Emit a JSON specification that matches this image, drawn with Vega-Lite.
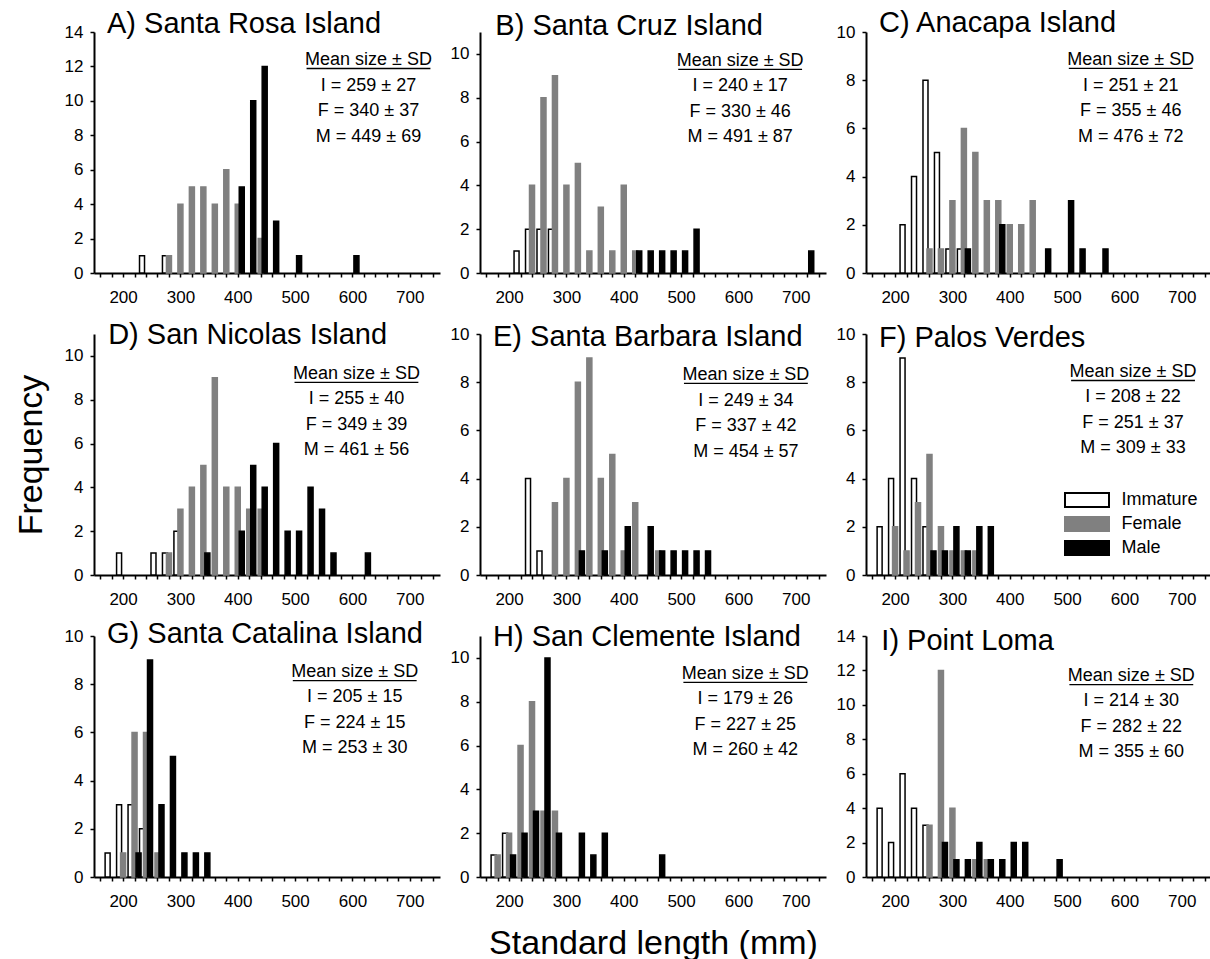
{
"$schema": "https://vega.github.io/schema/vega-lite/v6.json",
"background": "white",
"padding": {"left": 14, "top": 8, "right": 0, "bottom": 0},
"config": {
 "view": {"stroke": null},
 "font": "Liberation Sans",
 "axis": {"grid": false, "domainColor": "#000", "domainWidth": 2, "tickColor": "#000", "tickWidth": 1.5, "tickSize": 4, "labelColor": "#000", "labelFont": "Liberation Sans", "labelFontSize": 17, "labelOverlap": false, "titleFont": "Liberation Sans", "titleFontSize": 34, "titleFontWeight": "normal", "titleColor": "#000"}
},
"datasets": {
"bars": [
{"panel":"A","sex":"Immature","length":240,"count":1},{"panel":"A","sex":"Immature","length":280,"count":1},
{"panel":"A","sex":"Female","length":280,"count":1},{"panel":"A","sex":"Female","length":300,"count":4},{"panel":"A","sex":"Female","length":320,"count":5},{"panel":"A","sex":"Female","length":340,"count":5},{"panel":"A","sex":"Female","length":360,"count":4},{"panel":"A","sex":"Female","length":380,"count":6},{"panel":"A","sex":"Female","length":400,"count":4},{"panel":"A","sex":"Female","length":440,"count":2},
{"panel":"A","sex":"Male","length":400,"count":5},{"panel":"A","sex":"Male","length":420,"count":10},{"panel":"A","sex":"Male","length":440,"count":12},{"panel":"A","sex":"Male","length":460,"count":3},{"panel":"A","sex":"Male","length":500,"count":1},{"panel":"A","sex":"Male","length":600,"count":1},
{"panel":"B","sex":"Immature","length":220,"count":1},{"panel":"B","sex":"Immature","length":240,"count":2},{"panel":"B","sex":"Immature","length":260,"count":2},{"panel":"B","sex":"Immature","length":280,"count":2},
{"panel":"B","sex":"Female","length":240,"count":4},{"panel":"B","sex":"Female","length":260,"count":8},{"panel":"B","sex":"Female","length":280,"count":9},{"panel":"B","sex":"Female","length":300,"count":4},{"panel":"B","sex":"Female","length":320,"count":5},{"panel":"B","sex":"Female","length":340,"count":1},{"panel":"B","sex":"Female","length":360,"count":3},{"panel":"B","sex":"Female","length":380,"count":1},{"panel":"B","sex":"Female","length":400,"count":4},{"panel":"B","sex":"Female","length":420,"count":1},
{"panel":"B","sex":"Male","length":420,"count":1},{"panel":"B","sex":"Male","length":440,"count":1},{"panel":"B","sex":"Male","length":460,"count":1},{"panel":"B","sex":"Male","length":480,"count":1},{"panel":"B","sex":"Male","length":500,"count":1},{"panel":"B","sex":"Male","length":520,"count":2},{"panel":"B","sex":"Male","length":720,"count":1},
{"panel":"C","sex":"Immature","length":220,"count":2},{"panel":"C","sex":"Immature","length":240,"count":4},{"panel":"C","sex":"Immature","length":260,"count":8},{"panel":"C","sex":"Immature","length":280,"count":5},{"panel":"C","sex":"Immature","length":300,"count":1},{"panel":"C","sex":"Immature","length":320,"count":1},
{"panel":"C","sex":"Female","length":260,"count":1},{"panel":"C","sex":"Female","length":280,"count":1},{"panel":"C","sex":"Female","length":300,"count":3},{"panel":"C","sex":"Female","length":320,"count":6},{"panel":"C","sex":"Female","length":340,"count":5},{"panel":"C","sex":"Female","length":360,"count":3},{"panel":"C","sex":"Female","length":380,"count":3},{"panel":"C","sex":"Female","length":400,"count":2},{"panel":"C","sex":"Female","length":420,"count":2},{"panel":"C","sex":"Female","length":440,"count":3},
{"panel":"C","sex":"Male","length":320,"count":1},{"panel":"C","sex":"Male","length":380,"count":2},{"panel":"C","sex":"Male","length":460,"count":1},{"panel":"C","sex":"Male","length":500,"count":3},{"panel":"C","sex":"Male","length":520,"count":1},{"panel":"C","sex":"Male","length":560,"count":1},
{"panel":"D","sex":"Immature","length":200,"count":1},{"panel":"D","sex":"Immature","length":260,"count":1},{"panel":"D","sex":"Immature","length":280,"count":1},{"panel":"D","sex":"Immature","length":300,"count":2},
{"panel":"D","sex":"Female","length":280,"count":1},{"panel":"D","sex":"Female","length":300,"count":3},{"panel":"D","sex":"Female","length":320,"count":4},{"panel":"D","sex":"Female","length":340,"count":5},{"panel":"D","sex":"Female","length":360,"count":9},{"panel":"D","sex":"Female","length":380,"count":4},{"panel":"D","sex":"Female","length":400,"count":4},{"panel":"D","sex":"Female","length":420,"count":3},{"panel":"D","sex":"Female","length":440,"count":3},
{"panel":"D","sex":"Male","length":340,"count":1},{"panel":"D","sex":"Male","length":400,"count":2},{"panel":"D","sex":"Male","length":420,"count":5},{"panel":"D","sex":"Male","length":440,"count":4},{"panel":"D","sex":"Male","length":460,"count":6},{"panel":"D","sex":"Male","length":480,"count":2},{"panel":"D","sex":"Male","length":500,"count":2},{"panel":"D","sex":"Male","length":520,"count":4},{"panel":"D","sex":"Male","length":540,"count":3},{"panel":"D","sex":"Male","length":560,"count":1},{"panel":"D","sex":"Male","length":620,"count":1},
{"panel":"E","sex":"Immature","length":240,"count":4},{"panel":"E","sex":"Immature","length":260,"count":1},
{"panel":"E","sex":"Female","length":280,"count":3},{"panel":"E","sex":"Female","length":300,"count":4},{"panel":"E","sex":"Female","length":320,"count":8},{"panel":"E","sex":"Female","length":340,"count":9},{"panel":"E","sex":"Female","length":360,"count":4},{"panel":"E","sex":"Female","length":380,"count":5},{"panel":"E","sex":"Female","length":400,"count":1},{"panel":"E","sex":"Female","length":420,"count":3},{"panel":"E","sex":"Female","length":460,"count":1},
{"panel":"E","sex":"Male","length":320,"count":1},{"panel":"E","sex":"Male","length":360,"count":1},{"panel":"E","sex":"Male","length":400,"count":2},{"panel":"E","sex":"Male","length":440,"count":2},{"panel":"E","sex":"Male","length":460,"count":1},{"panel":"E","sex":"Male","length":480,"count":1},{"panel":"E","sex":"Male","length":500,"count":1},{"panel":"E","sex":"Male","length":520,"count":1},{"panel":"E","sex":"Male","length":540,"count":1},
{"panel":"F","sex":"Immature","length":180,"count":2},{"panel":"F","sex":"Immature","length":200,"count":4},{"panel":"F","sex":"Immature","length":220,"count":9},{"panel":"F","sex":"Immature","length":240,"count":4},{"panel":"F","sex":"Immature","length":260,"count":2},
{"panel":"F","sex":"Female","length":200,"count":2},{"panel":"F","sex":"Female","length":220,"count":1},{"panel":"F","sex":"Female","length":240,"count":3},{"panel":"F","sex":"Female","length":260,"count":5},{"panel":"F","sex":"Female","length":280,"count":2},{"panel":"F","sex":"Female","length":300,"count":1},{"panel":"F","sex":"Female","length":320,"count":1},{"panel":"F","sex":"Female","length":340,"count":1},
{"panel":"F","sex":"Male","length":260,"count":1},{"panel":"F","sex":"Male","length":280,"count":1},{"panel":"F","sex":"Male","length":300,"count":2},{"panel":"F","sex":"Male","length":320,"count":1},{"panel":"F","sex":"Male","length":340,"count":2},{"panel":"F","sex":"Male","length":360,"count":2},
{"panel":"G","sex":"Immature","length":180,"count":1},{"panel":"G","sex":"Immature","length":200,"count":3},{"panel":"G","sex":"Immature","length":220,"count":3},{"panel":"G","sex":"Immature","length":240,"count":2},
{"panel":"G","sex":"Female","length":200,"count":1},{"panel":"G","sex":"Female","length":220,"count":6},{"panel":"G","sex":"Female","length":240,"count":6},{"panel":"G","sex":"Female","length":260,"count":1},
{"panel":"G","sex":"Male","length":220,"count":1},{"panel":"G","sex":"Male","length":240,"count":9},{"panel":"G","sex":"Male","length":260,"count":3},{"panel":"G","sex":"Male","length":280,"count":5},{"panel":"G","sex":"Male","length":300,"count":1},{"panel":"G","sex":"Male","length":320,"count":1},{"panel":"G","sex":"Male","length":340,"count":1},
{"panel":"H","sex":"Immature","length":180,"count":1},{"panel":"H","sex":"Immature","length":200,"count":2},
{"panel":"H","sex":"Female","length":180,"count":1},{"panel":"H","sex":"Female","length":200,"count":2},{"panel":"H","sex":"Female","length":220,"count":6},{"panel":"H","sex":"Female","length":240,"count":8},{"panel":"H","sex":"Female","length":260,"count":3},{"panel":"H","sex":"Female","length":280,"count":3},
{"panel":"H","sex":"Male","length":200,"count":1},{"panel":"H","sex":"Male","length":220,"count":2},{"panel":"H","sex":"Male","length":240,"count":3},{"panel":"H","sex":"Male","length":260,"count":10},{"panel":"H","sex":"Male","length":280,"count":2},{"panel":"H","sex":"Male","length":320,"count":2},{"panel":"H","sex":"Male","length":340,"count":1},{"panel":"H","sex":"Male","length":360,"count":2},{"panel":"H","sex":"Male","length":460,"count":1},
{"panel":"I","sex":"Immature","length":180,"count":4},{"panel":"I","sex":"Immature","length":200,"count":2},{"panel":"I","sex":"Immature","length":220,"count":6},{"panel":"I","sex":"Immature","length":240,"count":4},{"panel":"I","sex":"Immature","length":260,"count":3},
{"panel":"I","sex":"Female","length":260,"count":3},{"panel":"I","sex":"Female","length":280,"count":12},{"panel":"I","sex":"Female","length":300,"count":4},{"panel":"I","sex":"Female","length":340,"count":1},{"panel":"I","sex":"Female","length":360,"count":1},
{"panel":"I","sex":"Male","length":280,"count":2},{"panel":"I","sex":"Male","length":300,"count":1},{"panel":"I","sex":"Male","length":320,"count":1},{"panel":"I","sex":"Male","length":340,"count":2},{"panel":"I","sex":"Male","length":360,"count":1},{"panel":"I","sex":"Male","length":380,"count":1},{"panel":"I","sex":"Male","length":400,"count":2},{"panel":"I","sex":"Male","length":420,"count":2},{"panel":"I","sex":"Male","length":480,"count":1}
],
"stats": [
{"panel":"A","title":"A) Santa Rosa Island","lines":["Mean size ± SD","I = 259 ± 27","F = 340 ± 37","M = 449 ± 69"]},
{"panel":"B","title":"B) Santa Cruz Island","lines":["Mean size ± SD","I = 240 ± 17","F = 330 ± 46","M = 491 ± 87"]},
{"panel":"C","title":"C) Anacapa Island","lines":["Mean size ± SD","I = 251 ± 21","F = 355 ± 46","M = 476 ± 72"]},
{"panel":"D","title":"D) San Nicolas Island","lines":["Mean size ± SD","I = 255 ± 40","F = 349 ± 39","M = 461 ± 56"]},
{"panel":"E","title":"E) Santa Barbara Island","lines":["Mean size ± SD","I = 249 ± 34","F = 337 ± 42","M = 454 ± 57"]},
{"panel":"F","title":"F) Palos Verdes","lines":["Mean size ± SD","I = 208 ± 22","F = 251 ± 37","M = 309 ± 33"]},
{"panel":"G","title":"G) Santa Catalina Island","lines":["Mean size ± SD","I = 205 ± 15","F = 224 ± 15","M = 253 ± 30"]},
{"panel":"H","title":"H) San Clemente Island","lines":["Mean size ± SD","I = 179 ± 26","F = 227 ± 25","M = 260 ± 42"]},
{"panel":"I","title":"I) Point Loma","lines":["Mean size ± SD","I = 214 ± 30","F = 282 ± 22","M = 355 ± 60"]}
]
},
"columns": 3,
"spacing": {"row": 61, "column": 40},
"bounds": "flush",
"resolve": {"scale": {"x": "independent", "y": "independent", "fill": "independent", "stroke": "independent"}, "axis": {"x": "independent", "y": "independent"}, "legend": {"fill": "independent", "stroke": "independent"}},
"concat": [
{"width": 346, "height": 241, "resolve": {"axis": {"x": "independent", "y": "independent"}}, "layer": [
 {"data": {"name": "bars"}, "transform": [{"filter": "datum.panel === 'A' && datum.sex === 'Immature'"}], "mark": {"type": "bar", "orient": "vertical", "width": 5, "xOffset": -4, "strokeWidth": 1.5},
  "encoding": {"x": {"field": "length", "type": "quantitative", "scale": {"domain": [158, 744], "nice": false, "zero": false}, "axis": {"values": [160,180,200,220,240,260,280,300,320,340,360,380,400,420,440,460,480,500,520,540,560,580,600,620,640,660,680,700,720,740], "labelExpr": "datum.value % 100 === 0 ? datum.label : ''", "title": null, "labelOverlap": false, "labelFlush": false, "labelBound": false, "labelPadding": 12}},
   "y": {"field": "count", "type": "quantitative", "stack": null, "scale": {"domain": [0, 14], "nice": false}, "axis": {"values": [0,2,4,6,8,10,12,14], "title": null, "labelOverlap": false, "labelPadding": 7}},
   "fill": {"field": "sex", "type": "nominal", "scale": {"domain": ["Immature","Female","Male"], "range": ["#ffffff","#808080","#000000"]}, "legend": null},
   "stroke": {"field": "sex", "type": "nominal", "scale": {"domain": ["Immature","Female","Male"], "range": ["#000000","#808080","#000000"]}, "legend": null}}},
 {"data": {"name": "bars"}, "transform": [{"filter": "datum.panel === 'A' && datum.sex === 'Female'"}], "mark": {"type": "bar", "orient": "vertical", "width": 5, "xOffset": 0, "strokeWidth": 1.5},
  "encoding": {"x": {"field": "length", "type": "quantitative", "axis": null}, "y": {"field": "count", "type": "quantitative", "stack": null, "axis": null},
   "fill": {"field": "sex", "type": "nominal", "legend": null}, "stroke": {"field": "sex", "type": "nominal", "legend": null}}},
 {"data": {"name": "bars"}, "transform": [{"filter": "datum.panel === 'A' && datum.sex === 'Male'"}], "mark": {"type": "bar", "orient": "vertical", "width": 5, "xOffset": 4, "strokeWidth": 1.5},
  "encoding": {"x": {"field": "length", "type": "quantitative", "axis": null}, "y": {"field": "count", "type": "quantitative", "stack": null, "axis": null},
   "fill": {"field": "sex", "type": "nominal", "legend": null}, "stroke": {"field": "sex", "type": "nominal", "legend": null}}},
 {"data": {"name": "stats"}, "transform": [{"filter": "datum.panel === 'A'"}], "mark": {"type": "text", "align": "left", "baseline": "alphabetic", "fontSize": 29, "color": "#000"},
  "encoding": {"x": {"datum": 172, "type": "quantitative", "axis": null}, "y": {"datum": 13.92, "type": "quantitative", "axis": null}, "text": {"field": "title"}}},
 {"data": {"name": "stats"}, "transform": [{"filter": "datum.panel === 'A'"}], "mark": {"type": "text", "align": "center", "baseline": "alphabetic", "fontSize": 18, "lineHeight": 25.5, "color": "#000"},
  "encoding": {"x": {"datum": 628, "type": "quantitative", "axis": null}, "y": {"datum": 12.08, "type": "quantitative", "axis": null}, "text": {"field": "lines"}}},
 {"data": {"name": "stats"}, "transform": [{"filter": "datum.panel === 'A'"}], "mark": {"type": "rule", "strokeWidth": 1.3, "color": "#000"},
  "encoding": {"x": {"datum": 520, "type": "quantitative", "axis": null}, "x2": {"datum": 736}, "y": {"datum": 11.88, "type": "quantitative", "axis": null}}}
]},
{"width": 346, "height": 241, "resolve": {"axis": {"x": "independent", "y": "independent"}}, "layer": [
 {"data": {"name": "bars"}, "transform": [{"filter": "datum.panel === 'B' && datum.sex === 'Immature'"}], "mark": {"type": "bar", "orient": "vertical", "width": 5, "xOffset": -4, "strokeWidth": 1.5},
  "encoding": {"x": {"field": "length", "type": "quantitative", "scale": {"domain": [158, 744], "nice": false, "zero": false}, "axis": {"values": [160,180,200,220,240,260,280,300,320,340,360,380,400,420,440,460,480,500,520,540,560,580,600,620,640,660,680,700,720,740], "labelExpr": "datum.value % 100 === 0 ? datum.label : ''", "title": null, "labelOverlap": false, "labelFlush": false, "labelBound": false, "labelPadding": 12}},
   "y": {"field": "count", "type": "quantitative", "stack": null, "scale": {"domain": [0, 11], "nice": false}, "axis": {"values": [0,2,4,6,8,10], "title": null, "labelOverlap": false, "labelPadding": 7}},
   "fill": {"field": "sex", "type": "nominal", "scale": {"domain": ["Immature","Female","Male"], "range": ["#ffffff","#808080","#000000"]}, "legend": null},
   "stroke": {"field": "sex", "type": "nominal", "scale": {"domain": ["Immature","Female","Male"], "range": ["#000000","#808080","#000000"]}, "legend": null}}},
 {"data": {"name": "bars"}, "transform": [{"filter": "datum.panel === 'B' && datum.sex === 'Female'"}], "mark": {"type": "bar", "orient": "vertical", "width": 5, "xOffset": 0, "strokeWidth": 1.5},
  "encoding": {"x": {"field": "length", "type": "quantitative", "axis": null}, "y": {"field": "count", "type": "quantitative", "stack": null, "axis": null},
   "fill": {"field": "sex", "type": "nominal", "legend": null}, "stroke": {"field": "sex", "type": "nominal", "legend": null}}},
 {"data": {"name": "bars"}, "transform": [{"filter": "datum.panel === 'B' && datum.sex === 'Male'"}], "mark": {"type": "bar", "orient": "vertical", "width": 5, "xOffset": 4, "strokeWidth": 1.5},
  "encoding": {"x": {"field": "length", "type": "quantitative", "axis": null}, "y": {"field": "count", "type": "quantitative", "stack": null, "axis": null},
   "fill": {"field": "sex", "type": "nominal", "legend": null}, "stroke": {"field": "sex", "type": "nominal", "legend": null}}},
 {"data": {"name": "stats"}, "transform": [{"filter": "datum.panel === 'B'"}], "mark": {"type": "text", "align": "left", "baseline": "alphabetic", "fontSize": 29, "color": "#000"},
  "encoding": {"x": {"datum": 176, "type": "quantitative", "axis": null}, "y": {"datum": 10.86, "type": "quantitative", "axis": null}, "text": {"field": "title"}}},
 {"data": {"name": "stats"}, "transform": [{"filter": "datum.panel === 'B'"}], "mark": {"type": "text", "align": "center", "baseline": "alphabetic", "fontSize": 18, "lineHeight": 25.5, "color": "#000"},
  "encoding": {"x": {"datum": 603, "type": "quantitative", "axis": null}, "y": {"datum": 9.45, "type": "quantitative", "axis": null}, "text": {"field": "lines"}}},
 {"data": {"name": "stats"}, "transform": [{"filter": "datum.panel === 'B'"}], "mark": {"type": "rule", "strokeWidth": 1.3, "color": "#000"},
  "encoding": {"x": {"datum": 495, "type": "quantitative", "axis": null}, "x2": {"datum": 711}, "y": {"datum": 9.29, "type": "quantitative", "axis": null}}}
]},
{"width": 346, "height": 241, "resolve": {"axis": {"x": "independent", "y": "independent"}}, "layer": [
 {"data": {"name": "bars"}, "transform": [{"filter": "datum.panel === 'C' && datum.sex === 'Immature'"}], "mark": {"type": "bar", "orient": "vertical", "width": 5, "xOffset": -4, "strokeWidth": 1.5},
  "encoding": {"x": {"field": "length", "type": "quantitative", "scale": {"domain": [158, 744], "nice": false, "zero": false}, "axis": {"values": [160,180,200,220,240,260,280,300,320,340,360,380,400,420,440,460,480,500,520,540,560,580,600,620,640,660,680,700,720,740], "labelExpr": "datum.value % 100 === 0 ? datum.label : ''", "title": null, "labelOverlap": false, "labelFlush": false, "labelBound": false, "labelPadding": 12}},
   "y": {"field": "count", "type": "quantitative", "stack": null, "scale": {"domain": [0, 10], "nice": false}, "axis": {"values": [0,2,4,6,8,10], "title": null, "labelOverlap": false, "labelPadding": 7}},
   "fill": {"field": "sex", "type": "nominal", "scale": {"domain": ["Immature","Female","Male"], "range": ["#ffffff","#808080","#000000"]}, "legend": null},
   "stroke": {"field": "sex", "type": "nominal", "scale": {"domain": ["Immature","Female","Male"], "range": ["#000000","#808080","#000000"]}, "legend": null}}},
 {"data": {"name": "bars"}, "transform": [{"filter": "datum.panel === 'C' && datum.sex === 'Female'"}], "mark": {"type": "bar", "orient": "vertical", "width": 5, "xOffset": 0, "strokeWidth": 1.5},
  "encoding": {"x": {"field": "length", "type": "quantitative", "axis": null}, "y": {"field": "count", "type": "quantitative", "stack": null, "axis": null},
   "fill": {"field": "sex", "type": "nominal", "legend": null}, "stroke": {"field": "sex", "type": "nominal", "legend": null}}},
 {"data": {"name": "bars"}, "transform": [{"filter": "datum.panel === 'C' && datum.sex === 'Male'"}], "mark": {"type": "bar", "orient": "vertical", "width": 5, "xOffset": 4, "strokeWidth": 1.5},
  "encoding": {"x": {"field": "length", "type": "quantitative", "axis": null}, "y": {"field": "count", "type": "quantitative", "stack": null, "axis": null},
   "fill": {"field": "sex", "type": "nominal", "legend": null}, "stroke": {"field": "sex", "type": "nominal", "legend": null}}},
 {"data": {"name": "stats"}, "transform": [{"filter": "datum.panel === 'C'"}], "mark": {"type": "text", "align": "left", "baseline": "alphabetic", "fontSize": 29, "color": "#000"},
  "encoding": {"x": {"datum": 172, "type": "quantitative", "axis": null}, "y": {"datum": 10.01, "type": "quantitative", "axis": null}, "text": {"field": "title"}}},
 {"data": {"name": "stats"}, "transform": [{"filter": "datum.panel === 'C'"}], "mark": {"type": "text", "align": "center", "baseline": "alphabetic", "fontSize": 18, "lineHeight": 25.5, "color": "#000"},
  "encoding": {"x": {"datum": 611, "type": "quantitative", "axis": null}, "y": {"datum": 8.63, "type": "quantitative", "axis": null}, "text": {"field": "lines"}}},
 {"data": {"name": "stats"}, "transform": [{"filter": "datum.panel === 'C'"}], "mark": {"type": "rule", "strokeWidth": 1.3, "color": "#000"},
  "encoding": {"x": {"datum": 503, "type": "quantitative", "axis": null}, "x2": {"datum": 719}, "y": {"datum": 8.49, "type": "quantitative", "axis": null}}}
]},
{"width": 346, "height": 241, "resolve": {"axis": {"x": "independent", "y": "independent"}}, "layer": [
 {"data": {"name": "bars"}, "transform": [{"filter": "datum.panel === 'D' && datum.sex === 'Immature'"}], "mark": {"type": "bar", "orient": "vertical", "width": 5, "xOffset": -4, "strokeWidth": 1.5},
  "encoding": {"x": {"field": "length", "type": "quantitative", "scale": {"domain": [158, 744], "nice": false, "zero": false}, "axis": {"values": [160,180,200,220,240,260,280,300,320,340,360,380,400,420,440,460,480,500,520,540,560,580,600,620,640,660,680,700,720,740], "labelExpr": "datum.value % 100 === 0 ? datum.label : ''", "title": null, "labelOverlap": false, "labelFlush": false, "labelBound": false, "labelPadding": 12}},
   "y": {"field": "count", "type": "quantitative", "stack": null, "scale": {"domain": [0, 11], "nice": false}, "axis": {"values": [0,2,4,6,8,10], "title": "Frequency", "titlePadding": 16, "labelOverlap": false, "labelPadding": 7}},
   "fill": {"field": "sex", "type": "nominal", "scale": {"domain": ["Immature","Female","Male"], "range": ["#ffffff","#808080","#000000"]}, "legend": null},
   "stroke": {"field": "sex", "type": "nominal", "scale": {"domain": ["Immature","Female","Male"], "range": ["#000000","#808080","#000000"]}, "legend": null}}},
 {"data": {"name": "bars"}, "transform": [{"filter": "datum.panel === 'D' && datum.sex === 'Female'"}], "mark": {"type": "bar", "orient": "vertical", "width": 5, "xOffset": 0, "strokeWidth": 1.5},
  "encoding": {"x": {"field": "length", "type": "quantitative", "axis": null}, "y": {"field": "count", "type": "quantitative", "stack": null, "axis": null},
   "fill": {"field": "sex", "type": "nominal", "legend": null}, "stroke": {"field": "sex", "type": "nominal", "legend": null}}},
 {"data": {"name": "bars"}, "transform": [{"filter": "datum.panel === 'D' && datum.sex === 'Male'"}], "mark": {"type": "bar", "orient": "vertical", "width": 5, "xOffset": 4, "strokeWidth": 1.5},
  "encoding": {"x": {"field": "length", "type": "quantitative", "axis": null}, "y": {"field": "count", "type": "quantitative", "stack": null, "axis": null},
   "fill": {"field": "sex", "type": "nominal", "legend": null}, "stroke": {"field": "sex", "type": "nominal", "legend": null}}},
 {"data": {"name": "stats"}, "transform": [{"filter": "datum.panel === 'D'"}], "mark": {"type": "text", "align": "left", "baseline": "alphabetic", "fontSize": 29, "color": "#000"},
  "encoding": {"x": {"datum": 174, "type": "quantitative", "axis": null}, "y": {"datum": 10.54, "type": "quantitative", "axis": null}, "text": {"field": "title"}}},
 {"data": {"name": "stats"}, "transform": [{"filter": "datum.panel === 'D'"}], "mark": {"type": "text", "align": "center", "baseline": "alphabetic", "fontSize": 18, "lineHeight": 25.5, "color": "#000"},
  "encoding": {"x": {"datum": 607, "type": "quantitative", "axis": null}, "y": {"datum": 8.95, "type": "quantitative", "axis": null}, "text": {"field": "lines"}}},
 {"data": {"name": "stats"}, "transform": [{"filter": "datum.panel === 'D'"}], "mark": {"type": "rule", "strokeWidth": 1.3, "color": "#000"},
  "encoding": {"x": {"datum": 499, "type": "quantitative", "axis": null}, "x2": {"datum": 715}, "y": {"datum": 8.79, "type": "quantitative", "axis": null}}}
]},
{"width": 346, "height": 241, "resolve": {"axis": {"x": "independent", "y": "independent"}}, "layer": [
 {"data": {"name": "bars"}, "transform": [{"filter": "datum.panel === 'E' && datum.sex === 'Immature'"}], "mark": {"type": "bar", "orient": "vertical", "width": 5, "xOffset": -4, "strokeWidth": 1.5},
  "encoding": {"x": {"field": "length", "type": "quantitative", "scale": {"domain": [158, 744], "nice": false, "zero": false}, "axis": {"values": [160,180,200,220,240,260,280,300,320,340,360,380,400,420,440,460,480,500,520,540,560,580,600,620,640,660,680,700,720,740], "labelExpr": "datum.value % 100 === 0 ? datum.label : ''", "title": null, "labelOverlap": false, "labelFlush": false, "labelBound": false, "labelPadding": 12}},
   "y": {"field": "count", "type": "quantitative", "stack": null, "scale": {"domain": [0, 10], "nice": false}, "axis": {"values": [0,2,4,6,8,10], "title": null, "labelOverlap": false, "labelPadding": 7}},
   "fill": {"field": "sex", "type": "nominal", "scale": {"domain": ["Immature","Female","Male"], "range": ["#ffffff","#808080","#000000"]}, "legend": null},
   "stroke": {"field": "sex", "type": "nominal", "scale": {"domain": ["Immature","Female","Male"], "range": ["#000000","#808080","#000000"]}, "legend": null}}},
 {"data": {"name": "bars"}, "transform": [{"filter": "datum.panel === 'E' && datum.sex === 'Female'"}], "mark": {"type": "bar", "orient": "vertical", "width": 5, "xOffset": 0, "strokeWidth": 1.5},
  "encoding": {"x": {"field": "length", "type": "quantitative", "axis": null}, "y": {"field": "count", "type": "quantitative", "stack": null, "axis": null},
   "fill": {"field": "sex", "type": "nominal", "legend": null}, "stroke": {"field": "sex", "type": "nominal", "legend": null}}},
 {"data": {"name": "bars"}, "transform": [{"filter": "datum.panel === 'E' && datum.sex === 'Male'"}], "mark": {"type": "bar", "orient": "vertical", "width": 5, "xOffset": 4, "strokeWidth": 1.5},
  "encoding": {"x": {"field": "length", "type": "quantitative", "axis": null}, "y": {"field": "count", "type": "quantitative", "stack": null, "axis": null},
   "fill": {"field": "sex", "type": "nominal", "legend": null}, "stroke": {"field": "sex", "type": "nominal", "legend": null}}},
 {"data": {"name": "stats"}, "transform": [{"filter": "datum.panel === 'E'"}], "mark": {"type": "text", "align": "left", "baseline": "alphabetic", "fontSize": 29, "color": "#000"},
  "encoding": {"x": {"datum": 172, "type": "quantitative", "axis": null}, "y": {"datum": 9.51, "type": "quantitative", "axis": null}, "text": {"field": "title"}}},
 {"data": {"name": "stats"}, "transform": [{"filter": "datum.panel === 'E'"}], "mark": {"type": "text", "align": "center", "baseline": "alphabetic", "fontSize": 18, "lineHeight": 25.5, "color": "#000"},
  "encoding": {"x": {"datum": 613, "type": "quantitative", "axis": null}, "y": {"datum": 8.09, "type": "quantitative", "axis": null}, "text": {"field": "lines"}}},
 {"data": {"name": "stats"}, "transform": [{"filter": "datum.panel === 'E'"}], "mark": {"type": "rule", "strokeWidth": 1.3, "color": "#000"},
  "encoding": {"x": {"datum": 505, "type": "quantitative", "axis": null}, "x2": {"datum": 721}, "y": {"datum": 7.95, "type": "quantitative", "axis": null}}}
]},
{"width": 346, "height": 241, "resolve": {"axis": {"x": "independent", "y": "independent"}}, "layer": [
 {"data": {"name": "bars"}, "transform": [{"filter": "datum.panel === 'F' && datum.sex === 'Immature'"}], "mark": {"type": "bar", "orient": "vertical", "width": 5, "xOffset": -4, "strokeWidth": 1.5},
  "encoding": {"x": {"field": "length", "type": "quantitative", "scale": {"domain": [158, 744], "nice": false, "zero": false}, "axis": {"values": [160,180,200,220,240,260,280,300,320,340,360,380,400,420,440,460,480,500,520,540,560,580,600,620,640,660,680,700,720,740], "labelExpr": "datum.value % 100 === 0 ? datum.label : ''", "title": null, "labelOverlap": false, "labelFlush": false, "labelBound": false, "labelPadding": 12}},
   "y": {"field": "count", "type": "quantitative", "stack": null, "scale": {"domain": [0, 10], "nice": false}, "axis": {"values": [0,2,4,6,8,10], "title": null, "labelOverlap": false, "labelPadding": 7}},
   "fill": {"field": "sex", "type": "nominal", "scale": {"domain": ["Immature","Female","Male"], "range": ["#ffffff","#808080","#000000"]}, "legend": {"title": null, "orient": "none", "legendX": 209, "legendY": 154, "symbolType": "M-2,-0.64H2V0.64H-2Z", "symbolSize": 484, "symbolStrokeWidth": 2, "labelFontSize": 18, "labelFont": "Liberation Sans", "labelColor": "#000", "labelOffset": 22.6, "rowPadding": 0}},
   "stroke": {"field": "sex", "type": "nominal", "scale": {"domain": ["Immature","Female","Male"], "range": ["#000000","#808080","#000000"]}, "legend": {"title": null, "orient": "none", "legendX": 209, "legendY": 154, "symbolType": "M-2,-0.64H2V0.64H-2Z", "symbolSize": 484, "symbolStrokeWidth": 2, "labelFontSize": 18, "labelFont": "Liberation Sans", "labelColor": "#000", "labelOffset": 22.6, "rowPadding": 0}}}},
 {"data": {"name": "bars"}, "transform": [{"filter": "datum.panel === 'F' && datum.sex === 'Female'"}], "mark": {"type": "bar", "orient": "vertical", "width": 5, "xOffset": 0, "strokeWidth": 1.5},
  "encoding": {"x": {"field": "length", "type": "quantitative", "axis": null}, "y": {"field": "count", "type": "quantitative", "stack": null, "axis": null},
   "fill": {"field": "sex", "type": "nominal", "legend": null}, "stroke": {"field": "sex", "type": "nominal", "legend": null}}},
 {"data": {"name": "bars"}, "transform": [{"filter": "datum.panel === 'F' && datum.sex === 'Male'"}], "mark": {"type": "bar", "orient": "vertical", "width": 5, "xOffset": 4, "strokeWidth": 1.5},
  "encoding": {"x": {"field": "length", "type": "quantitative", "axis": null}, "y": {"field": "count", "type": "quantitative", "stack": null, "axis": null},
   "fill": {"field": "sex", "type": "nominal", "legend": null}, "stroke": {"field": "sex", "type": "nominal", "legend": null}}},
 {"data": {"name": "stats"}, "transform": [{"filter": "datum.panel === 'F'"}], "mark": {"type": "text", "align": "left", "baseline": "alphabetic", "fontSize": 29, "color": "#000"},
  "encoding": {"x": {"datum": 172, "type": "quantitative", "axis": null}, "y": {"datum": 9.45, "type": "quantitative", "axis": null}, "text": {"field": "title"}}},
 {"data": {"name": "stats"}, "transform": [{"filter": "datum.panel === 'F'"}], "mark": {"type": "text", "align": "center", "baseline": "alphabetic", "fontSize": 18, "lineHeight": 25.5, "color": "#000"},
  "encoding": {"x": {"datum": 615, "type": "quantitative", "axis": null}, "y": {"datum": 8.22, "type": "quantitative", "axis": null}, "text": {"field": "lines"}}},
 {"data": {"name": "stats"}, "transform": [{"filter": "datum.panel === 'F'"}], "mark": {"type": "rule", "strokeWidth": 1.3, "color": "#000"},
  "encoding": {"x": {"datum": 507, "type": "quantitative", "axis": null}, "x2": {"datum": 723}, "y": {"datum": 8.07, "type": "quantitative", "axis": null}}}
]},
{"width": 346, "height": 241, "resolve": {"axis": {"x": "independent", "y": "independent"}}, "layer": [
 {"data": {"name": "bars"}, "transform": [{"filter": "datum.panel === 'G' && datum.sex === 'Immature'"}], "mark": {"type": "bar", "orient": "vertical", "width": 5, "xOffset": -4, "strokeWidth": 1.5},
  "encoding": {"x": {"field": "length", "type": "quantitative", "scale": {"domain": [158, 744], "nice": false, "zero": false}, "axis": {"values": [160,180,200,220,240,260,280,300,320,340,360,380,400,420,440,460,480,500,520,540,560,580,600,620,640,660,680,700,720,740], "labelExpr": "datum.value % 100 === 0 ? datum.label : ''", "title": null, "labelOverlap": false, "labelFlush": false, "labelBound": false, "labelPadding": 12}},
   "y": {"field": "count", "type": "quantitative", "stack": null, "scale": {"domain": [0, 10], "nice": false}, "axis": {"values": [0,2,4,6,8,10], "title": null, "labelOverlap": false, "labelPadding": 7}},
   "fill": {"field": "sex", "type": "nominal", "scale": {"domain": ["Immature","Female","Male"], "range": ["#ffffff","#808080","#000000"]}, "legend": null},
   "stroke": {"field": "sex", "type": "nominal", "scale": {"domain": ["Immature","Female","Male"], "range": ["#000000","#808080","#000000"]}, "legend": null}}},
 {"data": {"name": "bars"}, "transform": [{"filter": "datum.panel === 'G' && datum.sex === 'Female'"}], "mark": {"type": "bar", "orient": "vertical", "width": 5, "xOffset": 0, "strokeWidth": 1.5},
  "encoding": {"x": {"field": "length", "type": "quantitative", "axis": null}, "y": {"field": "count", "type": "quantitative", "stack": null, "axis": null},
   "fill": {"field": "sex", "type": "nominal", "legend": null}, "stroke": {"field": "sex", "type": "nominal", "legend": null}}},
 {"data": {"name": "bars"}, "transform": [{"filter": "datum.panel === 'G' && datum.sex === 'Male'"}], "mark": {"type": "bar", "orient": "vertical", "width": 5, "xOffset": 4, "strokeWidth": 1.5},
  "encoding": {"x": {"field": "length", "type": "quantitative", "axis": null}, "y": {"field": "count", "type": "quantitative", "stack": null, "axis": null},
   "fill": {"field": "sex", "type": "nominal", "legend": null}, "stroke": {"field": "sex", "type": "nominal", "legend": null}}},
 {"data": {"name": "stats"}, "transform": [{"filter": "datum.panel === 'G'"}], "mark": {"type": "text", "align": "left", "baseline": "alphabetic", "fontSize": 29, "color": "#000"},
  "encoding": {"x": {"datum": 172, "type": "quantitative", "axis": null}, "y": {"datum": 9.72, "type": "quantitative", "axis": null}, "text": {"field": "title"}}},
 {"data": {"name": "stats"}, "transform": [{"filter": "datum.panel === 'G'"}], "mark": {"type": "text", "align": "center", "baseline": "alphabetic", "fontSize": 18, "lineHeight": 25.5, "color": "#000"},
  "encoding": {"x": {"datum": 604, "type": "quantitative", "axis": null}, "y": {"datum": 8.30, "type": "quantitative", "axis": null}, "text": {"field": "lines"}}},
 {"data": {"name": "stats"}, "transform": [{"filter": "datum.panel === 'G'"}], "mark": {"type": "rule", "strokeWidth": 1.3, "color": "#000"},
  "encoding": {"x": {"datum": 496, "type": "quantitative", "axis": null}, "x2": {"datum": 712}, "y": {"datum": 8.15, "type": "quantitative", "axis": null}}}
]},
{"width": 346, "height": 241, "resolve": {"axis": {"x": "independent", "y": "independent"}}, "layer": [
 {"data": {"name": "bars"}, "transform": [{"filter": "datum.panel === 'H' && datum.sex === 'Immature'"}], "mark": {"type": "bar", "orient": "vertical", "width": 5, "xOffset": -4, "strokeWidth": 1.5},
  "encoding": {"x": {"field": "length", "type": "quantitative", "scale": {"domain": [158, 744], "nice": false, "zero": false}, "axis": {"values": [160,180,200,220,240,260,280,300,320,340,360,380,400,420,440,460,480,500,520,540,560,580,600,620,640,660,680,700,720,740], "labelExpr": "datum.value % 100 === 0 ? datum.label : ''", "title": "Standard length (mm)", "titlePadding": 17, "labelOverlap": false, "labelFlush": false, "labelBound": false, "labelPadding": 12}},
   "y": {"field": "count", "type": "quantitative", "stack": null, "scale": {"domain": [0, 11], "nice": false}, "axis": {"values": [0,2,4,6,8,10], "title": null, "labelOverlap": false, "labelPadding": 7}},
   "fill": {"field": "sex", "type": "nominal", "scale": {"domain": ["Immature","Female","Male"], "range": ["#ffffff","#808080","#000000"]}, "legend": null},
   "stroke": {"field": "sex", "type": "nominal", "scale": {"domain": ["Immature","Female","Male"], "range": ["#000000","#808080","#000000"]}, "legend": null}}},
 {"data": {"name": "bars"}, "transform": [{"filter": "datum.panel === 'H' && datum.sex === 'Female'"}], "mark": {"type": "bar", "orient": "vertical", "width": 5, "xOffset": 0, "strokeWidth": 1.5},
  "encoding": {"x": {"field": "length", "type": "quantitative", "axis": null}, "y": {"field": "count", "type": "quantitative", "stack": null, "axis": null},
   "fill": {"field": "sex", "type": "nominal", "legend": null}, "stroke": {"field": "sex", "type": "nominal", "legend": null}}},
 {"data": {"name": "bars"}, "transform": [{"filter": "datum.panel === 'H' && datum.sex === 'Male'"}], "mark": {"type": "bar", "orient": "vertical", "width": 5, "xOffset": 4, "strokeWidth": 1.5},
  "encoding": {"x": {"field": "length", "type": "quantitative", "axis": null}, "y": {"field": "count", "type": "quantitative", "stack": null, "axis": null},
   "fill": {"field": "sex", "type": "nominal", "legend": null}, "stroke": {"field": "sex", "type": "nominal", "legend": null}}},
 {"data": {"name": "stats"}, "transform": [{"filter": "datum.panel === 'H'"}], "mark": {"type": "text", "align": "left", "baseline": "alphabetic", "fontSize": 29, "color": "#000"},
  "encoding": {"x": {"datum": 172, "type": "quantitative", "axis": null}, "y": {"datum": 10.54, "type": "quantitative", "axis": null}, "text": {"field": "title"}}},
 {"data": {"name": "stats"}, "transform": [{"filter": "datum.panel === 'H'"}], "mark": {"type": "text", "align": "center", "baseline": "alphabetic", "fontSize": 18, "lineHeight": 25.5, "color": "#000"},
  "encoding": {"x": {"datum": 612, "type": "quantitative", "axis": null}, "y": {"datum": 9.04, "type": "quantitative", "axis": null}, "text": {"field": "lines"}}},
 {"data": {"name": "stats"}, "transform": [{"filter": "datum.panel === 'H'"}], "mark": {"type": "rule", "strokeWidth": 1.3, "color": "#000"},
  "encoding": {"x": {"datum": 504, "type": "quantitative", "axis": null}, "x2": {"datum": 720}, "y": {"datum": 8.88, "type": "quantitative", "axis": null}}}
]},
{"width": 346, "height": 241, "resolve": {"axis": {"x": "independent", "y": "independent"}}, "layer": [
 {"data": {"name": "bars"}, "transform": [{"filter": "datum.panel === 'I' && datum.sex === 'Immature'"}], "mark": {"type": "bar", "orient": "vertical", "width": 5, "xOffset": -4, "strokeWidth": 1.5},
  "encoding": {"x": {"field": "length", "type": "quantitative", "scale": {"domain": [158, 744], "nice": false, "zero": false}, "axis": {"values": [160,180,200,220,240,260,280,300,320,340,360,380,400,420,440,460,480,500,520,540,560,580,600,620,640,660,680,700,720,740], "labelExpr": "datum.value % 100 === 0 ? datum.label : ''", "title": null, "labelOverlap": false, "labelFlush": false, "labelBound": false, "labelPadding": 12}},
   "y": {"field": "count", "type": "quantitative", "stack": null, "scale": {"domain": [0, 14], "nice": false}, "axis": {"values": [0,2,4,6,8,10,12,14], "title": null, "labelOverlap": false, "labelPadding": 7}},
   "fill": {"field": "sex", "type": "nominal", "scale": {"domain": ["Immature","Female","Male"], "range": ["#ffffff","#808080","#000000"]}, "legend": null},
   "stroke": {"field": "sex", "type": "nominal", "scale": {"domain": ["Immature","Female","Male"], "range": ["#000000","#808080","#000000"]}, "legend": null}}},
 {"data": {"name": "bars"}, "transform": [{"filter": "datum.panel === 'I' && datum.sex === 'Female'"}], "mark": {"type": "bar", "orient": "vertical", "width": 5, "xOffset": 0, "strokeWidth": 1.5},
  "encoding": {"x": {"field": "length", "type": "quantitative", "axis": null}, "y": {"field": "count", "type": "quantitative", "stack": null, "axis": null},
   "fill": {"field": "sex", "type": "nominal", "legend": null}, "stroke": {"field": "sex", "type": "nominal", "legend": null}}},
 {"data": {"name": "bars"}, "transform": [{"filter": "datum.panel === 'I' && datum.sex === 'Male'"}], "mark": {"type": "bar", "orient": "vertical", "width": 5, "xOffset": 4, "strokeWidth": 1.5},
  "encoding": {"x": {"field": "length", "type": "quantitative", "axis": null}, "y": {"field": "count", "type": "quantitative", "stack": null, "axis": null},
   "fill": {"field": "sex", "type": "nominal", "legend": null}, "stroke": {"field": "sex", "type": "nominal", "legend": null}}},
 {"data": {"name": "stats"}, "transform": [{"filter": "datum.panel === 'I'"}], "mark": {"type": "text", "align": "left", "baseline": "alphabetic", "fontSize": 29, "color": "#000"},
  "encoding": {"x": {"datum": 176, "type": "quantitative", "axis": null}, "y": {"datum": 13.17, "type": "quantitative", "axis": null}, "text": {"field": "title"}}},
 {"data": {"name": "stats"}, "transform": [{"filter": "datum.panel === 'I'"}], "mark": {"type": "text", "align": "center", "baseline": "alphabetic", "fontSize": 18, "lineHeight": 25.5, "color": "#000"},
  "encoding": {"x": {"datum": 612, "type": "quantitative", "axis": null}, "y": {"datum": 11.39, "type": "quantitative", "axis": null}, "text": {"field": "lines"}}},
 {"data": {"name": "stats"}, "transform": [{"filter": "datum.panel === 'I'"}], "mark": {"type": "rule", "strokeWidth": 1.3, "color": "#000"},
  "encoding": {"x": {"datum": 504, "type": "quantitative", "axis": null}, "x2": {"datum": 720}, "y": {"datum": 11.18, "type": "quantitative", "axis": null}}}
]}
]
}
